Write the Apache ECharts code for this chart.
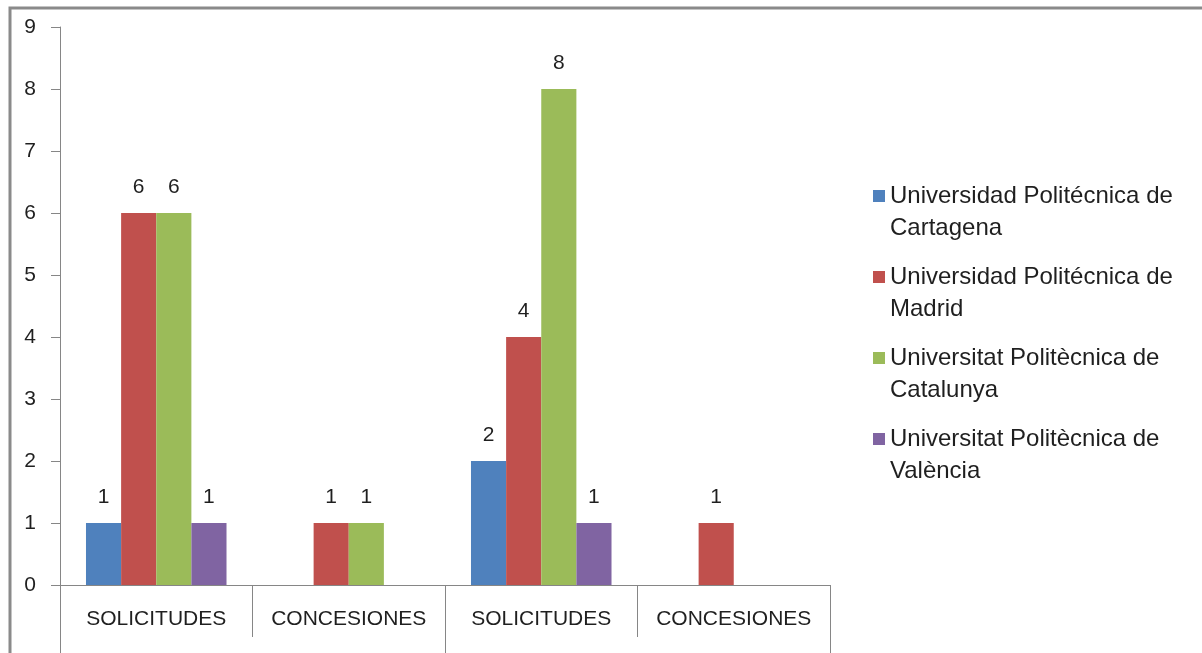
<!DOCTYPE html>
<html>
<head>
<meta charset="utf-8">
<script src="https://cdn.jsdelivr.net/npm/echarts@6/dist/echarts.min.js"></script>
<style>
  html, body { margin: 0; padding: 0; background: #fff; }
  #chart { width: 1202px; height: 653px; }
</style>
</head>
<body>
<div id="chart"></div>
<script>
// categorias del eje x
var categories = ['SOLICITUDES', 'CONCESIONES', 'SOLICITUDES', 'CONCESIONES'];
var yTicks = [0, 1, 2, 3, 4, 5, 6, 7, 8, 9];

// valores por universidad (null = sin barra)
var cartagena = [1, null, 2, null];
var madrid = [6, 1, 4, 1];
var catalunya = [6, 1, 8, null];
var valencia = [1, null, 1, null];

var seriesNames = [
  'Universidad Politécnica de Cartagena',
  'Universidad Politécnica de Madrid',
  'Universitat Politècnica de Catalunya',
  'Universitat Politècnica de València'
];
var colors = ['#4F81BD', '#C0504D', '#9BBB59', '#8064A2'];
var values = [cartagena, madrid, catalunya, valencia];

var font = 'Liberation Sans';
var axisColor = '#868686';
var textColor = '#1f1f1f';

var chart = echarts.init(document.getElementById('chart'));

var series = values.map(function (vals, i) {
  return {
    name: seriesNames[i],
    type: 'bar',
    barGap: 0,
    barCategoryGap: '27%',
    itemStyle: { color: colors[i] },
    label: {
      show: true,
      position: 'top',
      distance: 15,
      color: textColor,
      fontFamily: font,
      fontSize: 21
    },
    data: vals
  };
});

var option = {
  backgroundColor: '#fff',
  animation: false,
  grid: { left: 60, right: 372, top: 27, bottom: 68 },
  legend: {
    orient: 'vertical',
    left: 868,
    top: 143,
    itemWidth: 12,
    itemHeight: 12,
    itemGap: -15,
    icon: 'rect',
    data: seriesNames,
    // linea vacia arriba para que el cuadro quede junto a la primera linea
    formatter: function (name) {
      var k = name.lastIndexOf(' ');
      return '\n' + name.slice(0, k) + '\n' + name.slice(k + 1);
    },
    textStyle: {
      fontFamily: font,
      fontSize: 24,
      lineHeight: 32,
      color: textColor
    }
  },
  xAxis: [
    {
      type: 'category',
      data: categories,
      axisLine: { lineStyle: { color: axisColor, width: 1 } },
      axisTick: { show: true, length: 52, interval: 0, lineStyle: { color: axisColor } },
      axisLabel: { interval: 0, margin: 24, color: textColor, fontFamily: font, fontSize: 21 }
    },
    {
      // nivel exterior del eje (sin etiquetas)
      type: 'category',
      position: 'bottom',
      data: ['', ''],
      axisLine: { show: false },
      axisTick: { show: true, length: 80, interval: 0, lineStyle: { color: axisColor } },
      axisLabel: { show: false }
    }
  ],
  yAxis: {
    type: 'value',
    min: yTicks[0],
    max: yTicks[yTicks.length - 1],
    interval: 1,
    axisLine: { show: true, lineStyle: { color: axisColor } },
    axisTick: { show: true, length: 9, lineStyle: { color: axisColor } },
    splitLine: { show: false },
    axisLabel: { margin: 24, color: textColor, fontFamily: font, fontSize: 21 }
  },
  graphic: [
    {
      type: 'polyline',
      shape: { points: [[10, 660], [10, 8], [1202, 8]] },
      style: { stroke: '#8a8a8a', lineWidth: 3, fill: null }
    }
  ],
  series: series
};

chart.setOption(option);
</script>
</body>
</html>
